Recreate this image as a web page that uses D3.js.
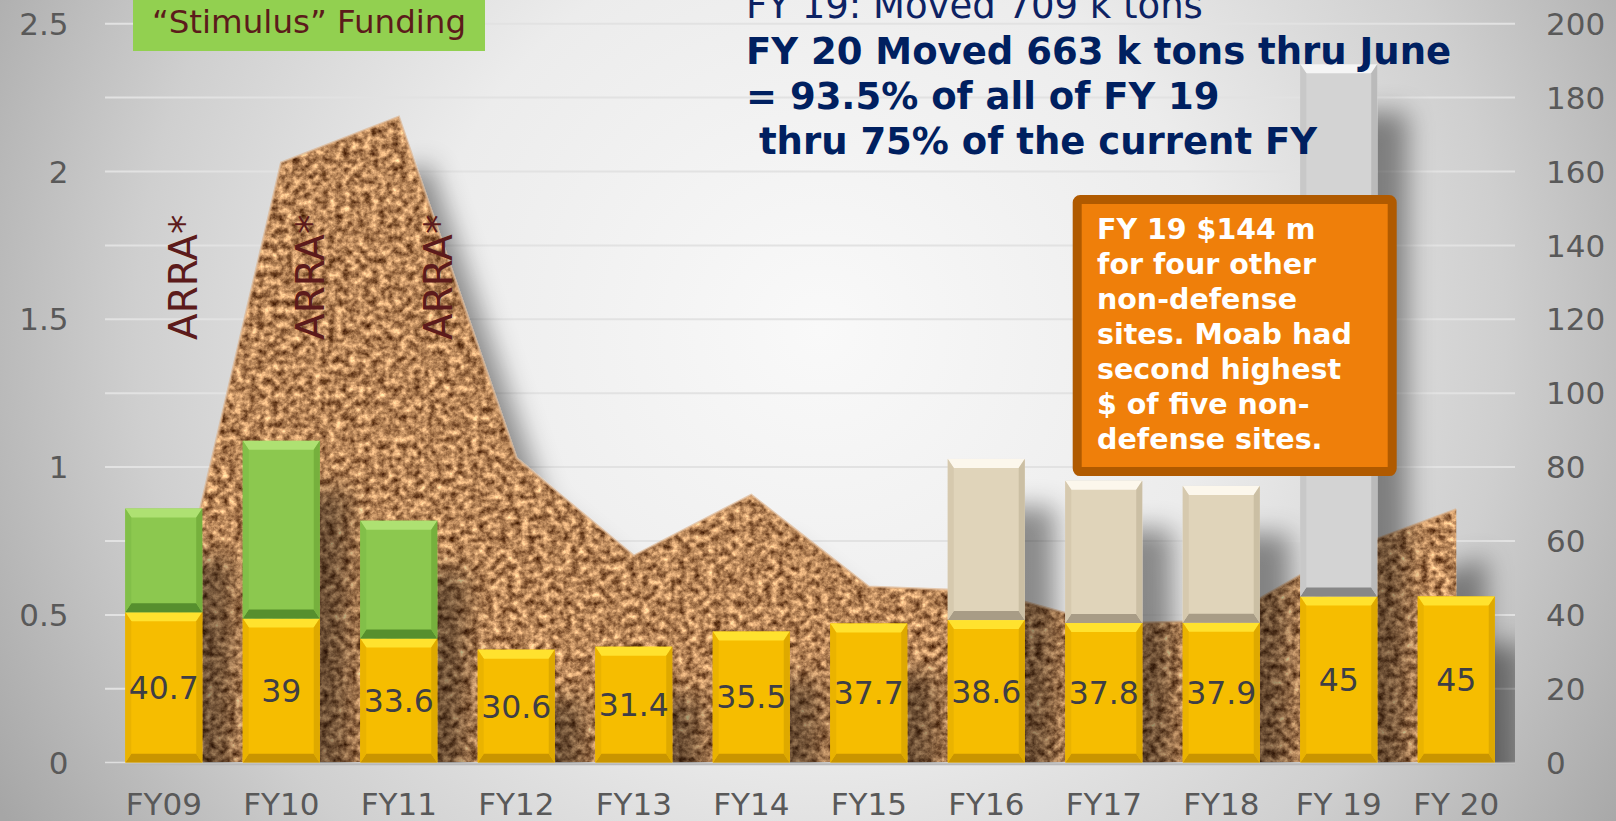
<!DOCTYPE html>
<html>
<head>
<meta charset="utf-8">
<script src="https://cdn.jsdelivr.net/npm/d3@7/dist/d3.min.js"></script>
<style>
  html, body { margin: 0; padding: 0; background: #d0d0d0; overflow: hidden; }
  svg { display: block; }
  text { font-family: "DejaVu Sans", Verdana, sans-serif; }
</style>
</head>
<body>
<script>
// ---------------- data ----------------
const categories = ["FY09","FY10","FY11","FY12","FY13","FY14","FY15","FY16","FY17","FY18","FY 19","FY 20"];
const moabFunding = [40.7, 39, 33.6, 30.6, 31.4, 35.5, 37.7, 38.6, 37.8, 37.9, 45, 45];     // $M (right axis)
const stimulusFunding = [28.1, 48.1, 31.9, 0, 0, 0, 0, 0, 0, 0, 0, 0];                        // ARRA $M
const supplementalFunding = [0, 0, 0, 0, 0, 0, 0, 43.6, 38.5, 37.0, 0, 0];                   // $M
const otherSitesFunding = [0, 0, 0, 0, 0, 0, 0, 0, 0, 0, 144, 0];                             // $M
const tonsMoved = [0.33, 2.03, 2.185, 1.03, 0.70, 0.906, 0.595, 0.58, 0.47, 0.48, 0.709, 0.857]; // million tons (left axis)
const leftTicks = [0, 0.5, 1, 1.5, 2, 2.5];
const rightTicks = [0, 20, 40, 60, 80, 100, 120, 140, 160, 180, 200];
const gridTicks = [0, 20, 40, 60, 80, 100, 120, 140, 160, 180, 200];
const arraCategories = ["FY09", "FY10", "FY11"];
const headline = ["FY 20 Moved 663 k tons thru June", "= 93.5% of all of FY 19", " thru 75% of the current FY"];
const boxLines = ["FY 19 $144 m", "for four other", "non-defense", "sites. Moab had", "second highest", "$ of five non-", "defense sites."];

// ---------------- layout ----------------
const W = 1616, H = 821;
const plot = { left: 105, right: 1515, top: 23.7, bottom: 762.7 };

const svg = d3.select("body").append("svg").attr("width", W).attr("height", H);
const defs = svg.append("defs");

const bg = defs.append("radialGradient").attr("id", "bg")
  .attr("gradientUnits", "userSpaceOnUse").attr("cx", 820).attr("cy", 330).attr("r", 950);
[[0, "#f9f9f9"], [0.42, "#ececec"], [0.72, "#cfcfcf"], [1, "#a6a6a6"]].forEach(([o, c]) =>
  bg.append("stop").attr("offset", o).attr("stop-color", c));

const sh = defs.append("filter").attr("id", "shadow")
  .attr("filterUnits", "userSpaceOnUse").attr("x", 0).attr("y", 0).attr("width", W).attr("height", H);
sh.append("feDropShadow").attr("dx", 30).attr("dy", 48).attr("stdDeviation", 13)
  .attr("flood-color", "#000").attr("flood-opacity", 0.42);

const cork = defs.append("filter").attr("id", "cork")
  .attr("color-interpolation-filters", "sRGB")
  .attr("filterUnits", "userSpaceOnUse").attr("x", 0).attr("y", 0).attr("width", W).attr("height", H);
cork.append("feTurbulence").attr("type", "fractalNoise").attr("baseFrequency", 0.14)
  .attr("numOctaves", 4).attr("seed", 11).attr("result", "noise");
cork.append("feColorMatrix").attr("in", "noise").attr("type", "matrix")
  .attr("values", "1.15 0 0 0 0.14  1.05 0 0 0 -0.005  0.85 0 0 0 -0.08  0 0 0 0 1").attr("result", "col");
cork.append("feComposite").attr("in", "col").attr("in2", "SourceGraphic").attr("operator", "in");

defs.append("clipPath").attr("id", "plotClip").append("rect")
  .attr("x", plot.left).attr("y", 0).attr("width", plot.right - plot.left).attr("height", plot.bottom);

svg.append("rect").attr("width", W).attr("height", H).attr("fill", "url(#bg)");

// ---------------- scales ----------------
const x = d3.scaleBand().domain(categories).range([plot.left, plot.right])
  .paddingInner(0.345).paddingOuter(0.1725);
const yL = d3.scaleLinear().domain([0, 2.5]).range([plot.bottom, plot.top]);
const yR = d3.scaleLinear().domain([0, 200]).range([plot.bottom, plot.top]);
const cx = c => x(c) + x.bandwidth() / 2;

// gridlines
svg.append("g").selectAll("line").data(gridTicks).join("line")
  .attr("x1", plot.left).attr("x2", plot.right)
  .attr("y1", d => yR(d)).attr("y2", d => yR(d))
  .attr("stroke", "#e2e2e2").attr("stroke-width", 2);

// ---------------- area (tons moved) ----------------
const areaData = categories.map((c, i) => ({ c, v: tonsMoved[i] }));
const area = d3.area().x(d => cx(d.c)).y0(yL(0)).y1(d => yL(d.v));
const line = d3.line().x(d => cx(d.c)).y(d => yL(d.v));
const areaG = svg.append("g").attr("clip-path", "url(#plotClip)")
  .append("g").attr("filter", "url(#shadow)");
areaG.append("path").datum(areaData).attr("d", area).attr("fill", "#b5845a").attr("filter", "url(#cork)");
areaG.append("path").datum(areaData).attr("d", line).attr("fill", "none")
  .attr("stroke", "#dcae82").attr("stroke-width", 2.5).attr("stroke-opacity", 0.6);

// axis line
svg.append("line").attr("x1", plot.left).attr("x2", plot.right)
  .attr("y1", plot.bottom + 1).attr("y2", plot.bottom + 1)
  .attr("stroke", "#b8b8b8").attr("stroke-width", 3);
svg.append("line").attr("x1", plot.left).attr("x2", plot.right)
  .attr("y1", plot.bottom).attr("y2", plot.bottom)
  .attr("stroke", "#e6e6e6").attr("stroke-width", 1);

// ---------------- stacked bars ----------------
const keys = ["moab", "stimulus", "supplemental", "other"];
const rows = categories.map((c, i) => ({
  c, moab: moabFunding[i], stimulus: stimulusFunding[i],
  supplemental: supplementalFunding[i], other: otherSitesFunding[i]
}));
const stack = d3.stack().keys(keys)(rows);
const palette = {
  moab:         { main: "#f6bd00", top: "#ffe22e", bottom: "#c99500", left: "#eab300", right: "#dea900" },
  stimulus:     { main: "#8cc850", top: "#aee172", bottom: "#578f2d", left: "#82bf48", right: "#76b03e" },
  supplemental: { main: "#e0d4ba", top: "#fcf7ec", bottom: "#a89c86", left: "#d6c9ae", right: "#cbbfa4" },
  other:        { main: "#d3d3d3", top: "#f5f5f5", bottom: "#878787", left: "#c8c8c8", right: "#bababa" }
};

const barsG = svg.append("g").attr("clip-path", "url(#plotClip)")
  .append("g").attr("filter", "url(#shadow)");

stack.forEach(layer => {
  const col = palette[layer.key];
  layer.forEach(seg => {
    const v = seg[1] - seg[0];
    if (v <= 0) return;
    const x0 = x(seg.data.c), x1 = x0 + x.bandwidth();
    const y0 = yR(seg[1]), y1 = yR(seg[0]);
    const b = Math.min(9, (y1 - y0) / 3), s = 6;
    const g = barsG.append("g");
    g.append("rect").attr("x", x0).attr("y", y0).attr("width", x1 - x0).attr("height", y1 - y0).attr("fill", col.main);
    const poly = pts => pts.map(p => p.join(",")).join(" ");
    g.append("polygon").attr("points", poly([[x0, y0], [x1, y0], [x1 - s, y0 + b], [x0 + s, y0 + b]])).attr("fill", col.top);
    g.append("polygon").attr("points", poly([[x0, y1], [x1, y1], [x1 - s, y1 - b], [x0 + s, y1 - b]])).attr("fill", col.bottom);
    g.append("polygon").attr("points", poly([[x0, y0], [x0 + s, y0 + b], [x0 + s, y1 - b], [x0, y1]])).attr("fill", col.left);
    g.append("polygon").attr("points", poly([[x1, y0], [x1 - s, y0 + b], [x1 - s, y1 - b], [x1, y1]])).attr("fill", col.right);
  });
});

// bar value labels (base funding)
svg.append("g").selectAll("text").data(rows).join("text")
  .attr("x", d => cx(d.c)).attr("y", d => yR(d.moab / 2)).attr("dy", "0.36em")
  .attr("text-anchor", "middle").attr("font-size", 31.5).attr("fill", "#3e3e46")
  .text(d => d.moab);

// ---------------- axes labels ----------------
svg.append("g").selectAll("text").data(leftTicks).join("text")
  .attr("x", 68.5).attr("y", d => yL(d)).attr("dy", "0.36em")
  .attr("text-anchor", "end").attr("font-size", 31).attr("fill", "#595959")
  .text(d => d);
svg.append("g").selectAll("text").data(rightTicks).join("text")
  .attr("x", 1546).attr("y", d => yR(d)).attr("dy", "0.36em")
  .attr("text-anchor", "start").attr("font-size", 31).attr("fill", "#595959")
  .text(d => d);
svg.append("g").selectAll("text").data(categories).join("text")
  .attr("x", d => cx(d)).attr("y", 815)
  .attr("text-anchor", "middle").attr("font-size", 31).attr("fill", "#595959")
  .text(d => d);

// ---------------- annotations ----------------
const arraShift = [-5.6, 4.2, 14.7];
svg.append("g").selectAll("text").data(arraCategories).join("text")
  .attr("transform", (d, i) => `translate(${x(d) + x.bandwidth() + arraShift[i]},340) rotate(-90)`)
  .attr("font-size", 39).attr("fill", "#5c1b1b")
  .text("ARRA*");

svg.append("rect").attr("x", 133).attr("y", -2).attr("width", 352).attr("height", 53).attr("fill", "#92d050");
svg.append("text").attr("x", 309).attr("y", 32.5).attr("text-anchor", "middle")
  .attr("font-size", 32.5).attr("fill", "#5c1b1b").text("\u201CStimulus\u201D Funding");

svg.append("text").attr("x", 746).attr("y", 17.5).attr("font-size", 37).attr("fill", "#0d2263")
  .text("FY 19: Moved 709 k tons");
svg.append("g").selectAll("text").data(headline).join("text")
  .attr("x", 746).attr("y", (d, i) => 63.5 + 45 * i)
  .attr("font-size", 37).attr("font-weight", "bold").attr("fill", "#002060")
  .attr("xml:space", "preserve").style("white-space", "pre")
  .text(d => d);

svg.append("rect").attr("x", 1077.2).attr("y", 199.6).attr("width", 315).attr("height", 272)
  .attr("rx", 3).attr("fill", "#ef7f0a").attr("stroke", "#b05a00").attr("stroke-width", 9);
svg.append("g").selectAll("text").data(boxLines).join("text")
  .attr("x", 1097).attr("y", (d, i) => 239.3 + 35 * i)
  .attr("font-size", 28.5).attr("font-weight", "bold").attr("fill", "#ffffff")
  .text(d => d);
</script>
</body>
</html>
